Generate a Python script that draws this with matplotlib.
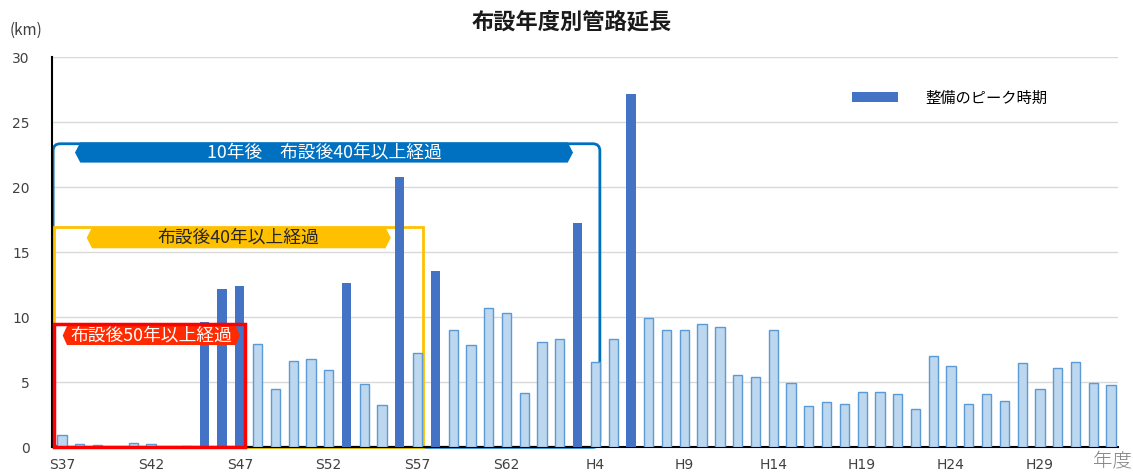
import matplotlib
matplotlib.use('Agg')
import matplotlib.pyplot as plt
from matplotlib.patches import Polygon, Rectangle, FancyBboxPatch, Patch
import numpy as np

plt.rcParams['font.family'] = ['Noto Sans CJK JP', 'DejaVu Sans']

# fiscal years S37 .. R3
years = (['S%d' % i for i in range(37, 64)] +
         ['H%d' % i for i in range(1, 31)] +
         ['R%d' % i for i in range(1, 4)])

# pipe length laid per year (km)
lengths = [0.95, 0.26, 0.18, 0.0, 0.36, 0.26, 0.0, 0.13, 9.66, 12.18,
           12.43, 7.92, 4.46, 6.64, 6.77, 5.97, 12.67, 4.90, 3.23, 20.77,
           7.28, 13.54, 9.00, 7.87, 10.72, 10.36, 4.15, 8.13, 8.33, 17.23,
           6.59, 8.30, 27.15, 9.92, 9.03, 9.03, 9.49, 9.28, 5.59, 5.44,
           9.03, 4.97, 3.18, 3.51, 3.31, 4.23, 4.27, 4.08, 2.95, 7.05,
           6.26, 3.36, 4.08, 3.56, 6.49, 4.51, 6.08, 6.54, 4.97, 4.79]

# years of peak construction
peak_years = ['S45', 'S46', 'S47', 'S53', 'S56', 'S58', 'H3', 'H6']

x = np.arange(len(years))
lengths = np.array(lengths)
is_peak = np.array([y in peak_years for y in years])

dark = '#4472C4'
light_fc = '#BDD7EE'
light_ec = '#5B9BD5'

fig = plt.figure(figsize=(11.33, 4.73), dpi=100)
ax = fig.add_axes([52 / 1133, 25.7 / 473, 1066 / 1133, 390 / 473])

ax.bar(x[~is_peak], lengths[~is_peak], width=0.52, color=light_fc,
       edgecolor=light_ec, linewidth=1, zorder=3)
ax.bar(x[is_peak], lengths[is_peak], width=0.52, color=dark,
       label='整備のピーク時期', zorder=3)

ax.set_xlim(-0.5625, 59.39)
ax.set_ylim(0, 30)
ax.set_yticks(range(0, 31, 5))
ax.set_xticks(x[::5])
ax.set_xticklabels(years[::5])
ax.tick_params(length=0, labelsize=10, colors='#404040')
ax.tick_params(axis='y', pad=16)
ax.tick_params(axis='x', pad=8)
for lab in ax.get_xticklabels() + ax.get_yticklabels():
    lab.set_family('DejaVu Sans')
ax.grid(axis='y', color='#D9D9D9', linewidth=1)
ax.set_axisbelow(True)
for s in ['top', 'right']:
    ax.spines[s].set_visible(False)
ax.spines['left'].set_color('black')
ax.spines['left'].set_linewidth(1.5)
ax.spines['bottom'].set_color('black')
ax.spines['bottom'].set_linewidth(1.5)


def banner(x0, x1, y0, y1, tip, fc, text, tc):
    ym = (y0 + y1) / 2
    pts = [(x0, ym), (x0 + tip, y1), (x1 - tip, y1), (x1, ym),
           (x1 - tip, y0), (x0 + tip, y0)]
    ax.add_patch(Polygon(pts, closed=True, fc=fc, ec='none', zorder=4))
    ax.text((x0 + x1) / 2, ym, text, color=tc, ha='center', va='center',
            fontsize=12.8, zorder=5)


# 10 years later box
ax.add_patch(FancyBboxPatch((-0.5, 0.0), 30.75, 23.35,
                            boxstyle='round,pad=0,rounding_size=0.4',
                            mutation_aspect=1.37, fc='none', ec='#0070C0',
                            lw=2, zorder=2, clip_on=False))
banner(0.73, 28.74, 21.9, 23.45, 0.3, '#0070C0',
       '10年後　布設後40年以上経過', 'white')

# 40 years box
ax.add_patch(Rectangle((-0.45, 0.0), 20.74, 16.97, fc='none', ec='#FFC000',
                       lw=2, zorder=2, clip_on=False))
banner(1.39, 18.49, 15.31, 16.92, 0.3, '#FFC000', '布設後40年以上経過', '#262626')

# 50 years box
ax.add_patch(Rectangle((-0.45, 0.0), 10.74, 9.46, fc='none', ec='#FF0000',
                       lw=2.5, zorder=4.5, clip_on=False))
banner(0.04, 10.01, 7.87, 9.33, 0.24, '#FF2A00', '布設後50年以上経過', 'white')

ax.legend(loc='center left', bbox_to_anchor=(0.7505, 0.8956), frameon=False,
          fontsize=11, handlelength=3.0, handleheight=0.6, handletextpad=1.8,
          borderpad=0, borderaxespad=0)

fig.text(0.505, 0.9535, '布設年度別管路延長', ha='center', va='center',
         fontsize=16, fontweight='bold', color='#1a1a1a')
fig.text(26 / 1133, 1 - 30 / 473, '(km)', ha='center', va='center',
         fontsize=11, color='#404040')
fig.text(1112 / 1133, 1 - 462 / 473, '年度', ha='center', va='center',
         fontsize=14, color='#808080', fontweight='light')

fig.savefig('out.png', dpi=100)
